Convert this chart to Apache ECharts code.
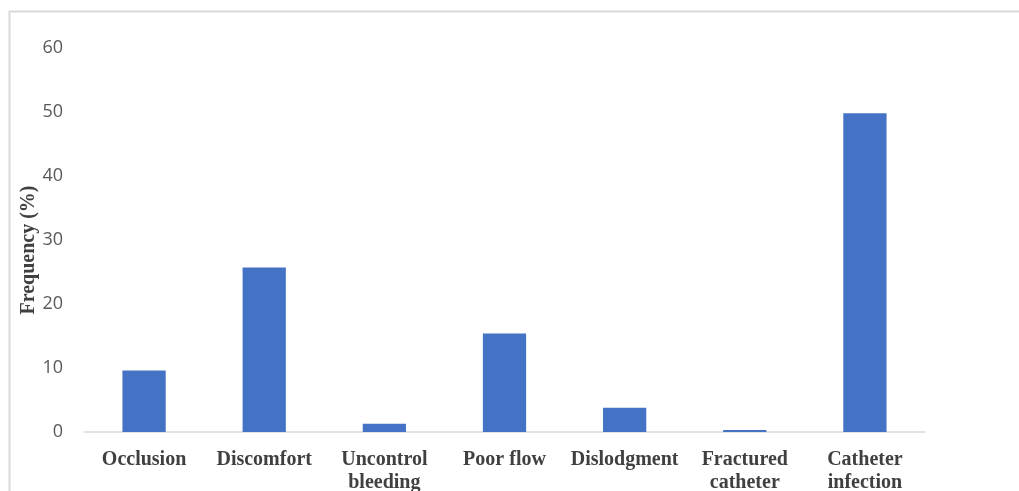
<!DOCTYPE html>
<html>
<head>
<meta charset="utf-8">
<script src="https://cdn.jsdelivr.net/npm/echarts@6/dist/echarts.min.js"></script>
<style>
html,body{margin:0;padding:0;background:#fff;}
#chart{width:1019px;height:491px;}
</style>
</head>
<body>
<div id="chart"></div>
<script>
const categories = ['Occlusion', 'Discomfort', 'Uncontrol\nbleeding', 'Poor flow', 'Dislodgment', 'Fractured\ncatheter', 'Catheter\ninfection'];
const frequency = [9.6, 25.7, 1.3, 15.4, 3.8, 0.3, 49.8];
const yTicks = { min: 0, max: 60, interval: 10 };
const yTitle = 'Frequency (%)';

const chart = echarts.init(document.getElementById('chart'), null, { renderer: 'canvas' });
chart.setOption({
  animation: false,
  backgroundColor: '#ffffff',
  graphic: [
    { type: 'polyline', shape: { points: [[9.5, 491], [9.5, 11.5], [1019, 11.5]] },
      style: { stroke: '#d9d9d9', lineWidth: 2, fill: null } }
  ],
  grid: { left: 84, right: 94, top: 48, bottom: 59, containLabel: false, outerBoundsMode: 'none' },
  xAxis: {
    type: 'category',
    data: categories,
    axisLine: { show: true, lineStyle: { color: '#d9d9d9', width: 1.5 } },
    axisTick: { show: false },
    axisLabel: {
      interval: 0,
      margin: 16,
      color: '#404040',
      fontFamily: 'Liberation Serif',
      fontWeight: 'bold',
      fontSize: 20,
      lineHeight: 23
    }
  },
  yAxis: {
    type: 'value',
    min: yTicks.min,
    max: yTicks.max,
    interval: yTicks.interval,
    name: yTitle,
    nameLocation: 'middle',
    nameGap: 45,
    nameMoveOverlap: false,
    nameTextStyle: { color: '#404040', fontFamily: 'Liberation Serif', fontWeight: 'bold', fontSize: 20, padding: [0, 20, 0, 0] },
    axisLine: { show: false },
    axisTick: { show: false },
    splitLine: { show: false },
    axisLabel: { color: '#595959', fontFamily: 'Open Sans', fontSize: 18, margin: 21 }
  },
  series: [{
    type: 'bar',
    data: frequency,
    barWidth: '36%',
    itemStyle: { color: '#4472C4' }
  }]
});
</script>
</body>
</html>
